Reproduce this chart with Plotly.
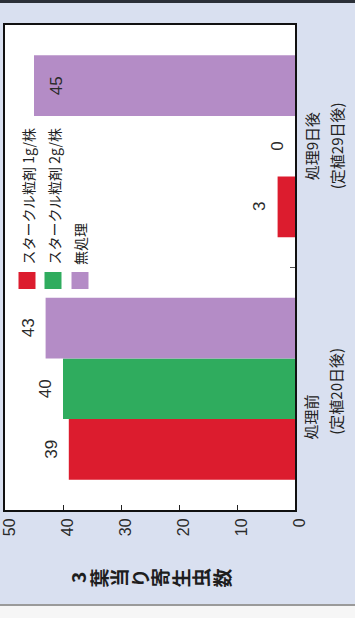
import plotly.graph_objects as go

# ---------------- data ----------------
categories = ["処理前", "処理9日後"]
series_names = ["スタークル粒剤 1g/株", "スタークル粒剤 2g/株", "無処理"]
starkle_1g = [39, 3]
starkle_2g = [40, 0]
untreated = [43, 45]
value_ticks = [0, 10, 20, 30, 40, 50]
cat_line1 = ["処理前", "処理9日後"]
cat_line2 = ["(定植20日後)", "(定植29日後)"]
axis_title = "3葉当り寄生虫数"

# ---------------- layout helpers ----------------
W, H = 355, 618
ML, MR, MT, MB = 5, 60, 25, 108
PW, PH = W - ML - MR, H - MT - MB
Y_RANGE = [-0.5, 1.5]
BARGAP = 0.25


def px_x(p):
    return (p - ML) / PW


def px_y(p):
    return (H - MB - p) / PH


colors = ["#dc1c2e", "#2fac5e", "#b48cc6"]
num_font = dict(family="Liberation Sans, Arial, sans-serif", size=17, color="#2a2a2a")
jp_font = "Noto Sans CJK JP, sans-serif"

fig = go.Figure()
series = [starkle_1g, starkle_2g, untreated]
for name, vals, col in zip(series_names, series, colors):
    fig.add_trace(go.Bar(
        y=categories, x=vals, orientation="h", name=name,
        marker=dict(color=col, line=dict(width=0)),
        showlegend=False, hoverinfo="x+name",
    ))

shapes = []
annotations = []

# value labels: one per bar, placed at the bar's value (rotated like the chart)
band_px = PH / (Y_RANGE[1] - Y_RANGE[0])
bar_px = band_px * (1 - BARGAP) / len(series)
inside_limit = 44  # labels of longer bars go inside the bar end
for k, vals in enumerate(series):
    offset = (k - (len(series) - 1) / 2) * bar_px
    for cat, v in zip(categories, vals):
        inside = v > inside_limit
        annotations.append(dict(
            text=str(v), xref="x", yref="y", x=v, y=cat,
            xanchor="left" if inside else "right", yanchor="middle",
            xshift=11 if inside else -6, yshift=offset,
            textangle=-90, showarrow=False, font=num_font))

# decorative page elements
shapes.append(dict(type="rect", xref="paper", yref="paper",
                   x0=px_x(-2), x1=px_x(W + 2), y0=px_y(-2), y1=px_y(3),
                   fillcolor="#2b3038", line=dict(width=0), layer="below"))
shapes.append(dict(type="rect", xref="paper", yref="paper",
                   x0=px_x(-2), x1=px_x(W + 2), y0=px_y(605), y1=px_y(H + 2),
                   fillcolor="#f6f6f6", line=dict(width=0), layer="below"))
shapes.append(dict(type="line", xref="paper", yref="paper",
                   x0=px_x(-2), x1=px_x(W + 2), y0=px_y(605), y1=px_y(605),
                   line=dict(color="#9a9a9a", width=2), layer="below"))

# legend (rotated like the chart)
leg_cx = [27, 53, 80]
for name, col, cx in zip(series_names, colors, leg_cx):
    shapes.append(dict(type="rect", xref="paper", yref="paper",
                       x0=px_x(cx - 8.5), x1=px_x(cx + 8.5),
                       y0=px_y(289), y1=px_y(272),
                       fillcolor=col, line=dict(width=0)))
    annotations.append(dict(text=name, xref="paper", yref="paper",
                            x=px_x(cx), y=px_y(267), xanchor="center", yanchor="bottom",
                            textangle=-90, showarrow=False,
                            font=dict(family=jp_font, size=14, color="#222")))

# category labels (two lines each, rotated)
annotations.append(dict(text=cat_line1[1], xref="paper", yref="y", x=px_x(311), y=1,
                        xanchor="center", yanchor="middle", textangle=-90, showarrow=False,
                        font=dict(family=jp_font, size=15, color="#222")))
annotations.append(dict(text=cat_line2[1], xref="paper", yref="y", x=px_x(336), y=1,
                        xanchor="center", yanchor="middle", textangle=-90, showarrow=False,
                        font=dict(family=jp_font, size=15, color="#222")))
annotations.append(dict(text=cat_line1[0], xref="paper", yref="y", x=px_x(311), y=-0.22,
                        xanchor="center", yanchor="bottom", textangle=-90, showarrow=False,
                        font=dict(family=jp_font, size=15, color="#222")))
annotations.append(dict(text=cat_line2[0], xref="paper", yref="y", x=px_x(336), y=-0.20,
                        xanchor="center", yanchor="bottom", textangle=-90, showarrow=False,
                        font=dict(family=jp_font, size=15, color="#222")))

# value-axis title, characters set as in the rotated original
for i, ch in enumerate(axis_title):
    annotations.append(dict(text=ch, xref="paper", yref="paper",
                            x=px_x(77 + i * 20.5), y=px_y(578),
                            xanchor="center", yanchor="middle", textangle=-90,
                            showarrow=False,
                            font=dict(family=jp_font, size=19, color="#1e1e1e", weight="bold")))

fig.update_layout(
    width=W, height=H,
    margin=dict(l=ML, r=MR, t=MT, b=MB, pad=0, autoexpand=False),
    paper_bgcolor="#d9e0f0",
    plot_bgcolor="#ffffff",
    barmode="group", bargap=BARGAP, bargroupgap=0,
    shapes=shapes, annotations=annotations,
    showlegend=False,
    xaxis=dict(range=[50, 0], tickvals=value_ticks, ticks="inside", ticklen=5,
               tickwidth=1.2, tickcolor="#222", tickangle=-90,
               ticklabeloverflow="allow", automargin=False, ticklabelshift=-5,
               tickfont=dict(family="Liberation Sans, Arial, sans-serif", size=16, color="#2a2a2a"),
               showgrid=False, zeroline=False,
               showline=True, linecolor="#111", linewidth=2, mirror=True),
    yaxis=dict(categoryorder="array", categoryarray=categories,
               range=Y_RANGE, side="right", automargin=False,
               showticklabels=False, ticks="inside", ticklen=5, tickwidth=1,
               tickcolor="#555", tickson="boundaries",
               showgrid=False, zeroline=False,
               showline=True, linecolor="#111", linewidth=2, mirror=True),
)

fig.write_html("out.html")
